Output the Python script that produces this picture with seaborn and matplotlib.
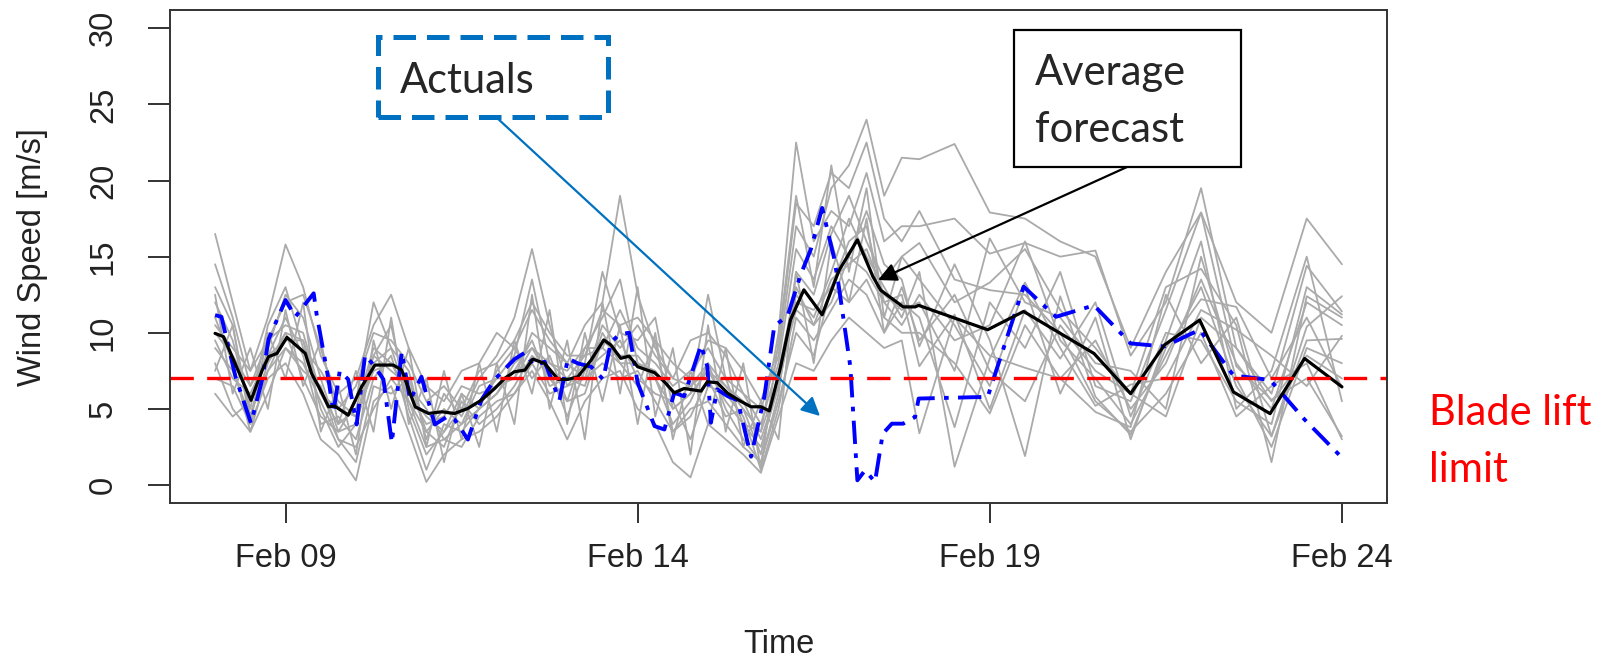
import pandas as pd
import matplotlib
matplotlib.use('Agg')
import matplotlib.pyplot as plt
import matplotlib.dates as mdates
from matplotlib.patches import Rectangle
import seaborn as sns

# day-of-month (February) values
base = pd.Timestamp('2019-01-31')

# ensemble members: 6-hourly until Feb 17 18h, then 12-hourly until Feb 24
grid_days = [8.0 + 0.25 * i for i in range(40)] + [18.0 + 0.5 * i for i in range(13)]

member_01 = [16.5, 12.0, 7.5, 11.0, 15.8, 13.0, 8.5, 6.0, 7.0, 10.5, 12.5, 9.0, 6.5, 5.5, 7.5, 8.0, 10.0, 9.0, 11.5, 9.5,
             8.0, 10.5, 12.0, 19.0, 12.5, 9.0, 7.0, 9.5, 10.0, 8.5, 6.0, 5.0, 8.5, 17.0, 15.0, 19.5, 21.0, 24.0, 19.0, 21.5,
             21.4, 22.4, 17.9, 17.5, 16.0, 15.0, 9.0, 14.0, 17.9, 12.0, 10.0, 17.5, 14.5]
member_02 = [13.0, 10.5, 4.5, 9.0, 12.5, 11.0, 7.0, 3.5, 5.5, 12.0, 9.0, 7.5, 3.0, 6.0, 4.5, 7.0, 8.5, 11.0, 15.5, 10.5,
             6.5, 8.0, 14.0, 10.0, 9.5, 11.0, 5.0, 6.0, 12.5, 7.0, 4.0, 3.5, 10.0, 22.5, 16.0, 18.0, 17.0, 20.5, 16.0, 17.0,
             17.0, 17.5, 15.2, 15.9, 15.0, 15.4, 8.5, 12.0, 19.5, 9.0, 6.0, 14.4, 11.4]
member_03 = [11.0, 8.0, 3.5, 7.5, 10.0, 9.5, 5.0, 2.5, 4.0, 8.5, 10.5, 5.0, 2.0, 3.5, 6.0, 5.0, 7.5, 9.0, 7.0, 8.5,
             5.5, 9.0, 11.0, 13.5, 8.0, 7.0, 4.0, 5.5, 8.0, 5.0, 3.0, 1.5, 6.0, 14.0, 12.5, 16.5, 19.0, 16.0, 13.5, 15.0,
             15.9, 12.0, 13.3, 15.5, 11.5, 9.0, 6.0, 13.0, 14.2, 10.5, 1.5, 12.4, 11.0]
member_04 = [9.5, 7.0, 6.0, 8.5, 11.0, 8.5, 4.0, 4.5, 3.0, 7.0, 8.5, 4.5, 1.0, 4.0, 3.5, 5.0, 6.0, 7.5, 9.5, 6.5,
             7.0, 6.5, 10.0, 8.0, 6.5, 9.5, 3.5, 4.5, 7.0, 4.5, 5.0, 2.0, 7.5, 13.0, 10.5, 12.0, 15.0, 14.0, 12.0, 10.5,
             12.5, 9.5, 10.5, 16.0, 9.5, 7.0, 4.0, 8.5, 13.0, 6.5, 3.2, 9.5, 9.6]
member_05 = [8.0, 5.0, 3.5, 6.0, 9.0, 7.5, 6.5, 3.0, 1.5, 6.5, 6.0, 7.0, 3.5, 2.5, 5.5, 4.0, 5.0, 6.5, 8.5, 7.5,
             4.5, 7.5, 8.5, 9.5, 7.0, 6.0, 5.5, 3.0, 6.5, 6.0, 4.5, 1.0, 5.0, 11.0, 9.5, 11.5, 13.5, 12.5, 10.0, 12.0,
             11.0, 3.8, 12.0, 9.0, 14.0, 6.5, 5.5, 11.5, 17.9, 7.8, 5.6, 7.0, 3.2]
member_06 = [12.0, 9.5, 5.0, 10.5, 13.0, 9.0, 7.5, 5.5, 4.5, 8.5, 7.5, 6.5, 5.0, 3.0, 4.0, 6.5, 7.0, 8.5, 13.5, 8.0,
             7.5, 9.0, 9.0, 11.5, 9.0, 8.0, 6.5, 7.5, 9.0, 7.0, 6.0, 4.0, 8.0, 15.5, 13.5, 17.0, 15.0, 18.0, 14.5, 13.5,
             9.1, 14.5, 9.5, 1.9, 12.4, 5.8, 3.3, 9.0, 12.2, 11.7, 7.0, 11.0, 6.4]
member_07 = [7.0, 6.5, 4.0, 7.0, 8.0, 6.0, 3.0, 2.0, 0.3, 5.5, 6.5, 3.5, 0.2, 2.0, 3.0, 3.5, 4.5, 6.0, 7.5, 5.5,
             3.0, 5.5, 7.0, 7.5, 5.0, 4.0, 1.5, 0.5, 4.0, 3.0, 2.0, 0.8, 4.5, 8.0, 7.5, 9.5, 11.0, 10.0, 9.0, 9.5,
             3.4, 11.0, 8.5, 7.7, 7.0, 9.5, 5.0, 8.0, 13.5, 8.0, 5.0, 12.0, 10.5]
member_08 = [10.5, 9.0, 7.5, 9.5, 10.5, 10.0, 6.0, 4.0, 5.0, 9.0, 8.0, 6.0, 4.0, 4.5, 6.5, 6.0, 6.5, 7.0, 10.0, 9.0,
             8.0, 7.0, 10.5, 9.0, 10.5, 8.5, 7.0, 6.5, 8.0, 6.5, 5.5, 3.0, 6.5, 12.5, 11.0, 14.0, 17.5, 15.0, 13.0, 11.0,
             14.0, 1.2, 8.3, 13.3, 9.0, 5.2, 6.6, 7.0, 11.5, 10.2, 8.5, 6.5, 9.8]
member_09 = [6.0, 4.5, 5.5, 7.5, 9.0, 8.0, 5.5, 3.0, 2.5, 5.0, 7.0, 5.5, 2.5, 3.0, 2.5, 4.5, 5.5, 6.0, 8.0, 6.0,
             6.5, 7.0, 8.0, 7.0, 7.5, 5.5, 3.5, 5.0, 5.5, 4.0, 2.5, 1.5, 5.5, 10.0, 8.5, 13.0, 12.0, 13.5, 11.0, 10.0,
             10.0, 8.0, 4.7, 10.5, 7.0, 4.8, 3.8, 12.5, 8.0, 11.0, 3.2, 10.4, 12.4]
member_10 = [14.5, 11.0, 6.5, 9.5, 12.0, 12.5, 9.0, 5.0, 6.5, 10.0, 9.5, 8.0, 5.5, 6.5, 5.0, 7.5, 8.0, 9.5, 12.0, 10.0,
             8.5, 8.5, 11.5, 10.5, 11.0, 9.5, 8.0, 7.0, 9.5, 9.0, 7.5, 5.5, 9.0, 18.5, 17.0, 20.5, 19.5, 22.5, 17.5, 16.0,
             18.0, 13.5, 12.8, 12.5, 10.0, 5.5, 3.5, 6.0, 10.0, 4.5, 6.5, 8.0, 3.0]
member_11 = [9.0, 7.5, 4.5, 8.0, 10.0, 7.0, 4.5, 3.5, 4.0, 8.0, 9.0, 5.5, 3.5, 5.0, 4.0, 5.0, 6.0, 8.0, 9.0, 7.0,
             5.5, 6.0, 9.5, 8.5, 8.5, 7.0, 5.0, 6.0, 7.5, 5.5, 4.0, 2.5, 6.5, 12.0, 11.5, 13.0, 16.0, 17.0, 12.0, 12.5,
             7.8, 11.2, 5.0, 11.5, 8.3, 12.0, 4.5, 10.0, 9.5, 5.5, 4.0, 13.0, 11.2]
member_12 = [10.0, 8.5, 6.5, 8.5, 9.5, 9.5, 6.0, 5.0, 4.5, 7.5, 8.0, 6.0, 4.5, 3.5, 5.0, 5.5, 7.0, 7.0, 9.0, 8.0,
             7.0, 8.5, 9.0, 8.0, 8.0, 7.5, 6.0, 6.5, 7.5, 6.5, 5.0, 3.5, 7.0, 11.5, 10.5, 13.5, 14.5, 15.5, 12.5, 11.5,
             12.0, 7.5, 16.2, 12.0, 11.0, 8.0, 7.5, 5.0, 15.0, 7.0, 2.5, 9.0, 8.0]
member_13 = [12.5, 6.0, 9.0, 5.0, 11.5, 6.5, 9.5, 4.0, 7.5, 3.5, 11.0, 4.0, 7.0, 1.5, 6.0, 2.5, 8.0, 4.0, 12.5, 5.0,
             9.5, 3.0, 12.0, 6.0, 13.0, 4.5, 9.0, 2.0, 10.5, 3.5, 8.0, 1.0, 9.5, 19.0, 13.0, 21.0, 14.0, 19.5, 11.0, 15.0,
             13.5, 10.5, 6.5, 13.0, 6.0, 11.0, 3.0, 9.5, 16.0, 5.0, 7.5, 15.0, 5.5]
member_14 = [7.5, 10.5, 4.0, 10.0, 7.0, 12.0, 3.5, 6.5, 2.0, 9.5, 5.0, 9.0, 2.5, 7.5, 3.0, 8.0, 3.5, 9.5, 6.0, 11.5,
             4.0, 10.0, 5.5, 10.5, 4.0, 10.0, 3.0, 7.5, 4.0, 9.0, 2.5, 5.5, 3.0, 14.0, 8.0, 16.0, 12.0, 17.5, 10.0, 13.0,
             9.5, 12.5, 7.5, 5.5, 10.5, 7.5, 6.0, 4.5, 11.0, 9.0, 5.5, 8.5, 7.0]

avg_days = [8.00, 8.12, 8.51, 8.67, 8.76, 8.88, 9.02, 9.28, 9.37, 9.52, 9.61, 9.70, 9.89, 10.08, 10.27, 10.53,
            10.65, 10.84, 11.03, 11.22, 11.40, 11.59, 11.78, 11.97, 12.11, 12.25, 12.40, 12.51, 12.68, 12.87,
            13.01, 13.15, 13.34, 13.52, 13.62, 13.76, 13.88, 14.00, 14.24, 14.38, 14.52, 14.66, 14.90, 14.99,
            15.13, 15.28, 15.46, 15.61, 15.75, 15.87, 16.03, 16.17, 16.36, 16.62, 16.86, 17.12, 17.34, 17.45,
            17.77, 17.94, 17.99, 18.97, 19.48, 20.48, 21.00, 21.48, 21.98, 22.46, 22.98, 23.47, 24.00]
avg_speed = [9.96, 9.74, 5.57, 7.55, 8.43, 8.65, 9.70, 8.65, 7.33, 6.02, 5.14, 5.18, 4.59, 6.45, 7.88, 7.88,
             7.55, 5.14, 4.70, 4.81, 4.70, 5.03, 5.57, 6.34, 7.00, 7.44, 7.55, 8.27, 7.99, 6.94,
             6.94, 7.11, 8.21, 9.53, 9.20, 8.32, 8.47, 7.77, 7.38, 6.78, 6.06, 6.34, 6.17, 6.78,
             6.72, 6.02, 5.51, 5.14, 5.14, 4.87, 7.77, 10.85, 12.82, 11.18, 14.10, 16.10, 13.70, 12.80,
             11.70, 11.70, 11.80, 10.20, 11.40, 8.64, 6.00, 9.20, 10.84, 6.11, 4.69, 8.31, 6.45]

act_days = [8.00, 8.09, 8.29, 8.51, 8.67, 8.76, 9.00, 9.14, 9.40, 9.44, 9.61, 9.68, 9.77, 9.89, 10.01, 10.13,
            10.27, 10.39, 10.51, 10.65, 10.77, 10.93, 11.12, 11.31, 11.40, 11.59, 11.78, 11.97, 12.25, 12.40,
            12.53, 12.68, 12.89, 13.01, 13.15, 13.34, 13.51, 13.62, 13.74, 13.88, 14.00, 14.24, 14.38, 14.52,
            14.66, 14.90, 14.99, 15.04, 15.13, 15.28, 15.42, 15.61, 15.80, 15.94, 16.13, 16.31, 16.46, 16.62,
            16.79, 16.85, 17.02, 17.12, 17.23, 17.37, 17.48, 17.61, 17.77, 17.94, 17.99, 18.97, 19.48, 19.94,
            20.48, 21.00, 21.48, 21.98, 22.46, 22.98, 23.47, 24.00]
act_speed = [11.16, 11.05, 7.11, 4.06, 6.94, 9.58, 12.15, 11.05, 12.59, 11.27, 6.94, 4.75, 7.49, 6.94, 3.98, 8.54,
             7.77, 6.94, 2.77, 8.76, 5.57, 7.11, 3.98, 4.53, 4.31, 2.99, 5.57, 6.94, 8.26, 8.70,
             7.83, 8.10, 5.57, 8.32, 7.99, 7.77, 6.94, 9.36, 9.90, 10.00, 6.72, 3.87, 3.65, 6.06,
             5.83, 9.20, 7.77, 4.09, 6.28, 5.83, 5.57, 1.86, 5.83, 10.44, 11.12, 13.75, 15.50, 18.20,
             14.90, 13.25, 7.77, 0.31, 0.97, 0.20, 3.37, 4.03, 4.03, 4.47, 5.68, 5.79, 13.03, 11.05,
             11.80, 9.30, 9.10, 10.20, 7.20, 6.90, 4.30, 1.80]

blade_limit = 7
tick_days = [9, 14, 19, 24]


def to_time(days):
    return [base + pd.Timedelta(days=d) for d in days]


members = [member_01, member_02, member_03, member_04, member_05, member_06, member_07,
           member_08, member_09, member_10, member_11, member_12, member_13, member_14]
rows = []
for k, vals in enumerate(members):
    for t, v in zip(to_time(grid_days), vals):
        rows.append({'time': t, 'speed': v, 'member': k})
df_ens = pd.DataFrame(rows)

sns.set_theme(style='white')
plt.rcParams['font.family'] = ['Liberation Sans', 'DejaVu Sans']

fig = plt.figure(figsize=(16.17, 6.58), dpi=100)
ax = fig.add_axes([170 / 1617, 1 - 503.3 / 658, (1387 - 170) / 1617, (503.3 - 10) / 658])

sns.lineplot(data=df_ens, x='time', y='speed', units='member', estimator=None,
             color='#aaaaaa', linewidth=1.3, legend=False, ax=ax)
sns.lineplot(x=to_time(act_days), y=act_speed, color='#0000ff', linewidth=2.8,
             linestyle=(0, (6, 2.4, 1.2, 2.4)), ax=ax)
sns.lineplot(x=to_time(avg_days), y=avg_speed, color='black', linewidth=2.3, ax=ax)
ax.axhline(blade_limit, color='#ff0000', linewidth=2.4, linestyle=(0, (7, 4)))

ax.set_xlim(base + pd.Timedelta(days=7.36), base + pd.Timedelta(days=24.64))
ax.set_ylim(-1.2, 31.2)
ax.set_xticks(to_time(tick_days))
ax.xaxis.set_major_formatter(mdates.DateFormatter('%b %d'))
ax.set_yticks(range(0, 31, 5))

ax.tick_params(axis='x', length=14.5, width=1.3, pad=14, labelsize=23.5, colors='#222222', bottom=True)
ax.tick_params(axis='y', length=15.8, width=1.3, pad=21, labelsize=23.5, colors='#222222', left=True,
               labelrotation=90)
for lab in ax.get_yticklabels():
    lab.set_va('center')

for sp in ax.spines.values():
    sp.set_color('#333333')
    sp.set_linewidth(1.4)

ax.set_xlabel('Time', fontsize=23.5, color='#222222')
ax.xaxis.set_label_coords(0.5, -0.287)
ax.xaxis.label.set_va('center')
ax.set_ylabel('Wind Speed [m/s]', fontsize=23.5, color='#222222')
ax.yaxis.set_label_coords(-0.1126, 0.5)
ax.yaxis.label.set_va('center')

# annotation boxes (pixel positions of the slide overlay)
H = 658
W = 1617
anno_font = ['Lato', 'DejaVu Sans']

fig.patches.append(Rectangle((378 / W, (H - 117) / H), 230 / W, 80 / H, transform=fig.transFigure,
                             fill=False, edgecolor='#0070c0', linewidth=3.6, linestyle=(0, (4.5, 2.2))))
fig.text(400 / W, (H - 92.7) / H, 'Actuals', fontsize=30, family=anno_font, va='baseline', ha='left')
ax.annotate('', xy=(820, H - 416), xycoords='figure pixels', xytext=(496, H - 117), textcoords='figure pixels',
            arrowprops=dict(arrowstyle='-|>', color='#0070c0', lw=1.6, mutation_scale=28, shrinkA=0, shrinkB=0))

fig.patches.append(Rectangle((1014 / W, (H - 167) / H), 227 / W, 137 / H, transform=fig.transFigure,
                             facecolor='white', edgecolor='black', linewidth=1.6))
fig.text(1035 / W, (H - 85) / H, 'Average', fontsize=30, family=anno_font, va='baseline', ha='left')
fig.text(1035 / W, (H - 142) / H, 'forecast', fontsize=30, family=anno_font, va='baseline', ha='left')
ax.annotate('', xy=(878, H - 280), xycoords='figure pixels', xytext=(1127, H - 167), textcoords='figure pixels',
            arrowprops=dict(arrowstyle='-|>', color='black', lw=1.6, mutation_scale=28, shrinkA=0, shrinkB=0))

fig.text(1429 / W, (H - 425) / H, 'Blade lift', fontsize=30, family=anno_font, color='#ff0000',
         va='baseline', ha='left')
fig.text(1429 / W, (H - 482) / H, 'limit', fontsize=30, family=anno_font, color='#ff0000',
         va='baseline', ha='left')

fig.savefig('out.png', dpi=100)
